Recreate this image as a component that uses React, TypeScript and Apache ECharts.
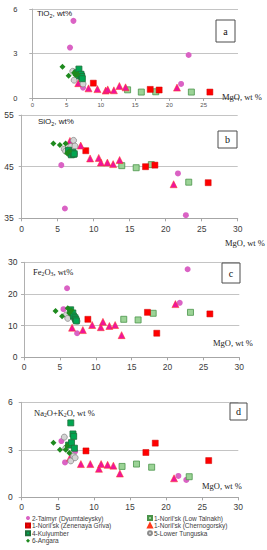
import React, { useEffect, useRef } from "react";
import * as echarts from "echarts";

// ---- Data ----
const TAIMYR = "2-Taimyr (Dyumtaleysky)";
const LOW_TALNAKH = "1-Noril'sk (Low Talnakh)";
const ZENENAYA = "1-Noril'sk (Zenenaya Griva)";
const CHERNOGORSKY = "1-Noril'sk (Chernogorsky)";
const KULYUMBER = "4-Kulyumber";
const LOWER_TUNGUSKA = "5-Lower Tunguska";
const ANGARA = "6-Angara";

const taimyrMgO = [5.5, 6.0, 7.4, 21.7, 22.8];
const taimyrTiO2 = [3.4, 5.2, 0.7, 0.95, 2.9];
const taimyrSiO2 = [45.3, 36.9, 47.5, 43.7, 35.6];
const taimyrFe2O3 = [15.2, 21.8, 7.6, 17.2, 27.8];
const taimyrAlk = [3.55, 2.2, 2.9, 1.35, 1.1];

const lowTalnakhMgO = [13.9, 15.9, 18.0, 23.2];
const lowTalnakhTiO2 = [0.55, 0.4, 0.42, 0.4];
const lowTalnakhSiO2 = [45.2, 44.8, 45.4, 42.0];
const lowTalnakhFe2O3 = [12.0, 11.8, 13.9, 14.2];
const lowTalnakhAlk = [1.95, 2.1, 1.9, 1.3];

const zenenayaMgO = [8.9, 17.2, 18.5, 25.9];
const zenenayaTiO2 = [1.0, 0.58, 0.54, 0.4];
const zenenayaSiO2 = [48.1, 45.0, 45.3, 41.9];
const zenenayaFe2O3 = [12.0, 14.2, 7.6, 13.7];
const zenenayaAlk = [2.93, 2.83, 3.42, 2.32];

const chernMgO = [6.7, 8.2, 9.5, 10.7, 11.0, 11.9, 12.7, 13.6, 21.1];
const chernTiO2 = [1.0, 0.65, 0.6, 0.5, 0.58, 0.52, 0.81, 0.72, 0.7];
const chernSiO2 = [50.0, 49.1, 46.6, 46.7, 45.8, 45.8, 45.5, 46.3, 41.6];
const chernFe2O3 = [9.35, 8.6, 10.2, 9.5, 11.2, 9.9, 10.2, 7.0, 16.8];
const chernAlk = [2.5, 2.1, 2.1, 1.8, 2.1, 2.05, 2.0, 1.5, 1.2];

const kulyumberMgO = [6.5, 6.8, 6.9, 7.1, 7.2, 7.3];
const kulyumberTiO2 = [1.7, 1.95, 1.5, 1.6, 1.45, 1.3];
const kulyumberSiO2 = [48.2, 47.6, 47.3, 47.8, 47.4, 47.5];
const kulyumberFe2O3 = [15.0, 14.0, 13.0, 12.5, 12.0, 11.5];
const kulyumberAlk = [3.3, 4.7, 3.45, 4.0, 3.85, 3.1];

const tunguskaMgO = [5.9, 6.1, 6.8, 7.2, 7.4];
const tunguskaTiO2 = [1.8, 1.2, 1.5, 1.6, 0.95];
const tunguskaSiO2 = [48.4, 48.0, 48.9, 50.1, 49.0];
const tunguskaFe2O3 = [13.4, 12.3, 13.0, 11.6, 11.4];
const tunguskaAlk = [3.8, 3.1, 2.3, 2.6, 2.5];

const angaraMgO = [4.4, 5.3, 6.1, 6.3, 6.6];
const angaraTiO2 = [2.1, 1.5, 1.7, 1.55, 1.6];
const angaraSiO2 = [49.5, 49.2, 49.5, 47.6, 48.0];
const angaraFe2O3 = [14.6, 13.0, 15.5, 14.0, 14.8];
const angaraAlk = [3.45, 3.0, 3.0, 3.25, 2.8];

const xTicks = [0, 5, 10, 15, 20, 25, 30];
const panelLetters = ["a", "b", "c", "d"];

// ---- Styles ----
const groupStyles: Record<string, any> = {
  [TAIMYR]: { symbol: "circle", size: 6, color: "#DA62C4", border: "#DA62C4", bw: 0 },
  [LOW_TALNAKH]: { symbol: "rect", size: 6, color: "#9BD396", border: "#4A944A", bw: 0.8 },
  [ZENENAYA]: { symbol: "rect", size: 6, color: "#FF0000", border: "#D00000", bw: 0.5 },
  [CHERNOGORSKY]: { symbol: "triangle", size: 7, color: "#F0149A", border: "#FF3A1A", bw: 0.5 },
  [LOWER_TUNGUSKA]: { symbol: "circle", size: 6, color: "#D4D4D4", border: "#8C8C8C", bw: 0.8 },
  [KULYUMBER]: { symbol: "rect", size: 6, color: "#00A651", border: "#1F6E3A", bw: 0.8 },
  [ANGARA]: { symbol: "diamond", size: 6, color: "#1E8A1E", border: "#1E8A1E", bw: 0 },
};

const groupData: [string, number[], number[][]][] = [
  [TAIMYR, taimyrMgO, [taimyrTiO2, taimyrSiO2, taimyrFe2O3, taimyrAlk]],
  [LOW_TALNAKH, lowTalnakhMgO, [lowTalnakhTiO2, lowTalnakhSiO2, lowTalnakhFe2O3, lowTalnakhAlk]],
  [ZENENAYA, zenenayaMgO, [zenenayaTiO2, zenenayaSiO2, zenenayaFe2O3, zenenayaAlk]],
  [CHERNOGORSKY, chernMgO, [chernTiO2, chernSiO2, chernFe2O3, chernAlk]],
  [LOWER_TUNGUSKA, tunguskaMgO, [tunguskaTiO2, tunguskaSiO2, tunguskaFe2O3, tunguskaAlk]],
  [KULYUMBER, kulyumberMgO, [kulyumberTiO2, kulyumberSiO2, kulyumberFe2O3, kulyumberAlk]],
  [ANGARA, angaraMgO, [angaraTiO2, angaraSiO2, angaraFe2O3, angaraAlk]],
];

const grids = [
  { left: 32.3, top: 9, width: 205.7, height: 89 },
  { left: 21.7, top: 115.1, width: 216, height: 103.2 },
  { left: 24, top: 262.3, width: 215.3, height: 95 },
  { left: 21.7, top: 402.3, width: 216.6, height: 95 },
];
const yRanges = [
  { min: 0, max: 6, interval: 3 },
  { min: 35, max: 55, interval: 10 },
  { min: 0, max: 30, interval: 10 },
  { min: 0, max: 6, interval: 3 },
];

const SANS = "'Liberation Sans', Arial, sans-serif";
const SERIF = "'Liberation Serif', 'Times New Roman', serif";

function subText(parts: string[], fontSize: number, family: string, color = "#222") {
  const text = parts.map((p, i) => (i % 2 === 0 ? `{n|${p}}` : `{s|${p}}`)).join("");
  return {
    text,
    rich: {
      n: { fontSize, fontFamily: family, fill: color, lineHeight: fontSize + 2 },
      s: { fontSize: fontSize * 0.68, fontFamily: family, fill: color, lineHeight: fontSize * 0.6, verticalAlign: "bottom" },
    },
  };
}

export default function App() {
  const ref = useRef<HTMLDivElement>(null);
  useEffect(() => {
    if (!ref.current) return;
    const chart = echarts.init(ref.current, undefined, { renderer: "svg" });

    const series: any[] = [];
    for (let p = 0; p < 4; p++) {
      for (const [name, mgo, oxides] of groupData) {
        const st = groupStyles[name];
        series.push({
          type: "scatter",
          name,
          xAxisIndex: p,
          yAxisIndex: p,
          symbol: st.symbol,
          symbolSize: st.size,
          itemStyle: { color: st.color, borderColor: st.border, borderWidth: st.bw, opacity: 1 },
          data: mgo.map((x, i) => [x, oxides[p][i]]),
        });
      }
    }

    const xLabelSize = [6, 8.5, 8.5, 8.5];
    const xMargins = [4, 6, 5, 5];
    const yMargins = [15, 8, 6.5, 9];
    const yLabelSize = [7.5, 8.5, 8.5, 8.5];

    const xAxis = grids.map((_, i) => ({
      type: "value",
      gridIndex: i,
      min: xTicks[0],
      max: xTicks[xTicks.length - 1],
      interval: 5,
      axisLine: { show: true, lineStyle: { color: "#A6A6A6", width: 1 } },
      axisTick: { show: true, length: 3, lineStyle: { color: "#A6A6A6" } },
      splitLine: { show: false },
      axisLabel: {
        fontSize: xLabelSize[i],
        fontFamily: SANS,
        color: i === 0 ? "#555" : "#404040",
        margin: xMargins[i],
        formatter: (v: number) => (i === 0 && v === 30 ? "" : String(v)),
      },
    }));

    const yAxis = grids.map((_, i) => ({
      type: "value",
      gridIndex: i,
      min: yRanges[i].min,
      max: yRanges[i].max,
      interval: yRanges[i].interval,
      axisLine: { show: true, lineStyle: { color: "#B0B0B0", width: 1 } },
      axisTick: { show: true, length: 3, lineStyle: { color: "#B0B0B0" } },
      splitLine: { show: true, lineStyle: { color: "#C4C4C4", width: 1 } },
      axisLabel: { fontSize: yLabelSize[i], fontFamily: SANS, color: "#333", margin: yMargins[i] },
    }));

    const letterBoxes = [
      { x: 216, y: 20, w: 19, h: 22 },
      { x: 218, y: 131, w: 19, h: 17 },
      { x: 222, y: 263, w: 18, h: 20 },
      { x: 230, y: 403, w: 17, h: 17 },
    ];

    const graphic: any[] = [];
    letterBoxes.forEach((b, i) => {
      graphic.push({
        type: "rect",
        shape: { x: b.x, y: b.y, width: b.w, height: b.h },
        style: { fill: "#fff", stroke: "#4D4D4D", lineWidth: 1 },
        z: 10,
      });
      graphic.push({
        type: "text",
        x: b.x + b.w / 2,
        y: b.y + b.h / 2,
        style: { text: panelLetters[i], font: `10px ${SERIF}`, fill: "#111", align: "center", verticalAlign: "middle" },
        z: 11,
      });
    });

    const yTitles = [
      { x: 37, y: 13.5, parts: ["TiO", "2", ", wt%"], size: 8, fam: SANS },
      { x: 38, y: 121.7, parts: ["SiO", "2", ", wt%"], size: 8, fam: SANS },
      { x: 33, y: 271.7, parts: ["Fe", "2", "O", "3", ", wt%"], size: 8.5, fam: SERIF },
      { x: 34, y: 412.7, parts: ["Na", "2", "O+K", "2", "O, wt %"], size: 8.5, fam: SERIF },
    ];
    yTitles.forEach((t) => {
      graphic.push({
        type: "text",
        x: t.x,
        y: t.y,
        style: { ...subText(t.parts, t.size, t.fam), align: "left", verticalAlign: "middle" },
        z: 10,
      });
    });

    const xTitles = [
      { x: 222, y: 97 },
      { x: 225, y: 243 },
      { x: 213, y: 343 },
      { x: 202, y: 486 },
    ];
    xTitles.forEach((t) => {
      graphic.push({
        type: "text",
        x: t.x,
        y: t.y,
        style: { text: "MgO, wt %", font: `8.5px ${SERIF}`, fill: "#222", align: "left", verticalAlign: "middle" },
        z: 10,
      });
    });

    const legendCommon = {
      orient: "vertical",
      itemWidth: 4,
      itemHeight: 4,
      itemGap: 0,
      padding: 0,
      textStyle: { fontSize: 6.5, fontFamily: SANS, color: "#404040", lineHeight: 7.6, padding: [0, 0, 0, -3] },
    };

    chart.setOption({
      animation: false,
      backgroundColor: "#fff",
      grid: grids.map((g) => ({ ...g, containLabel: false })),
      xAxis,
      yAxis,
      series,
      graphic,
      legend: [
        { ...legendCommon, left: 25, top: 514.2, data: [TAIMYR, ZENENAYA, KULYUMBER, ANGARA] },
        { ...legendCommon, left: 147, top: 514.2, data: [LOW_TALNAKH, CHERNOGORSKY, LOWER_TUNGUSKA] },
      ],
    });
    return () => chart.dispose();
  }, []);

  return <div ref={ref} style={{ position: "fixed", left: 0, top: 0, width: 267, height: 550 }} />;
}
